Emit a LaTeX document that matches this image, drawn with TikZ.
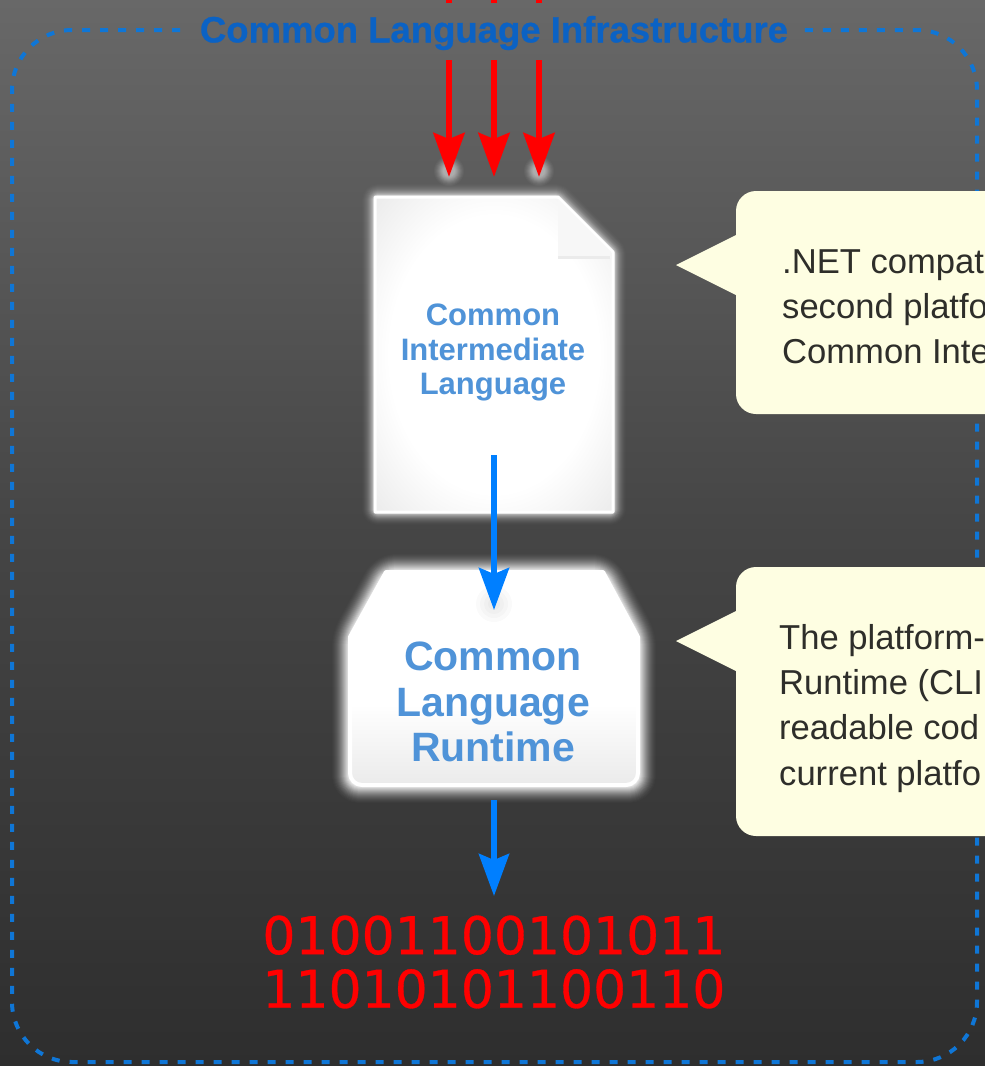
\documentclass[tikz,border=0pt]{standalone}
\usepackage{fontspec}
\setmainfont{Liberation Sans}
\newfontfamily\digitfont[FakeBold=0.6]{DejaVu Sans}
\newfontfamily\titlefont[FakeBold=0.8]{Liberation Sans Bold}
\usetikzlibrary{arrows.meta,calc}
\definecolor{bgtop}{HTML}{686868}
\definecolor{bgbot}{HTML}{2E2E2E}
\definecolor{dashblue}{HTML}{0F76D6}
\definecolor{titleblue}{HTML}{0B62C4}
\definecolor{boxtext}{HTML}{4F93D8}
\definecolor{arrowblue}{HTML}{007FFF}
\definecolor{note}{HTML}{FEFEE2}
\definecolor{notetext}{HTML}{2E2E2A}
\pgfdeclareradialshading{papershade}{\pgfpointorigin}{
  color(0bp)=(white); color(22bp)=(white); color(34bp)=(white!93!black); color(50bp)=(white!90!black); color(72bp)=(white!87!black)}
\pgfdeclareverticalshading{clrshade}{100bp}{
  color(0bp)=(white!92!black); color(25bp)=(white!92!black); color(44bp)=(white); color(100bp)=(white)}
\pgfdeclareverticalshading{bgshade}{100bp}{
  color(0bp)=(bgbot); color(25bp)=(bgbot); color(50bp)=(bgtop!40!bgbot); color(75bp)=(bgtop); color(100bp)=(bgtop)}
\tikzset{
  x=1pt,y=-1pt,
  border line/.style={draw=dashblue,line width=4pt,dash pattern=on 8pt off 10pt,rounded corners=60pt},
  title text/.style={font=\titlefont\fontsize{36.5}{40}\selectfont,text=titleblue,inner sep=0pt},
  cil text/.style={font=\bfseries\fontsize{31}{34.6}\selectfont,text=boxtext,align=center,inner sep=0pt},
  clr text/.style={font=\bfseries\fontsize{41}{45.5}\selectfont,text=boxtext,align=center,inner sep=0pt},
  note text/.style={font=\fontsize{34.6}{45.3}\selectfont,text=notetext,align=left,inner sep=0pt,anchor=north west},
  binary text/.style={font=\digitfont\fontsize{52}{53.6}\selectfont,text=red,align=center,inner sep=0pt},
  note box/.style={fill=note,draw=none},
  red arrow/.style={draw=red,line width=6.5pt,-{Stealth[length=44pt,width=31pt,inset=6pt]}},
  blue arrow/.style={draw=arrowblue,line width=6pt,-{Stealth[length=42pt,width=30pt,inset=6pt]}},
  glow line/.style={white,line join=round},
}
\begin{document}
\begin{tikzpicture}
\useasboundingbox (0,0) rectangle (985,1066);
\clip (0,0) rectangle (985,1066);
\shade[shading=bgshade] (0,0) rectangle (985,1066);
% dashed frame with a gap for the title
\draw[border line] (180,30) -- (12,30) -- (12,1062) -- (977,1062) -- (977,30) -- (800,30);
\node[title text] (title) at (494,33) {Common Language Infrastructure};
% soft glows under red tips
\foreach \cx in {449,539}{
  \foreach \r/\o in {15/0.03,14/0.04,13/0.05,12/0.06,11/0.07,10/0.08,9/0.09,8/0.09,7/0.09,6/0.09}{
    \fill[white,opacity=\o] (\cx,171) circle[radius=\r];
  }
}
% CIL page
\foreach \w/\o in {26/0.015,24/0.02,22/0.03,20/0.035,18/0.04,16/0.05,14/0.07,12/0.09,10/0.11,8/0.14,6/0.19,4/0.27}{
  \draw[glow line,opacity=\o,line width=\w pt,rounded corners=3pt]
    (375,197) -- (558,197) -- (613,252) -- (613,512) -- (375,512) -- cycle;
}
\shade[shading=papershade,draw=white,line width=3pt,line join=round]
  (375,197) -- (558,197) -- (613,252) -- (613,512) -- (375,512) -- cycle;
\fill[white!97!black] (558,199) -- (611,252) -- (611,258) -- (558,258) -- cycle;
\fill[white!92!black] (558,256) rectangle (610,259);
\node[cil text] (cil) at (493,352.5) {Common\\Intermediate\\Language};
\coordinate (cilout) at (494,455);
% CLR box
\foreach \w/\o in {36/0.02,34/0.025,32/0.03,30/0.035,28/0.04,26/0.05,24/0.06,22/0.07,20/0.08,18/0.09,16/0.11,14/0.13,12/0.15,10/0.18,8/0.22,6/0.27,4/0.32}{
  \draw[glow line,opacity=\o,line width=\w pt,rounded corners=10pt]
    (386,572) -- (603,572) -- (638,637) -- (638,785) -- (350,785) -- (350,637) -- cycle;
}
\shade[shading=clrshade,draw=white,line width=4pt,line join=round]
  (386,572) -- (603,572) -- (638,637) [rounded corners=12pt] -- (638,785) -- (350,785) [sharp corners] -- (350,637) -- cycle;
\foreach \r in {18,14,10,6}{
  \fill[black,opacity=0.02] (494,604) circle[radius=\r];
}
\node[clr text] (clr) at (493,702) {Common\\Language\\Runtime};
\coordinate (clrin) at (494,610);
\coordinate (clrout) at (494,800);
% binary
\node[binary text] (binary) at (494,962) {01001100101011\\11010101100110};
\coordinate (binin) at (494,896);
% arrows
\foreach \n/\cx in {a/449,b/494,c/539}{
  \coordinate (top\n) at (\cx,60);
  \coordinate (tip\n) at (\cx,177);
  \coordinate (stub\n) at (\cx,-2);
  \coordinate (stubend\n) at (\cx,3);
  \draw[draw=red,line width=6.5pt] (stub\n) -- (stubend\n);
  \draw[red arrow] (top\n) -- (tip\n);
}
\draw[blue arrow] (cilout) -- (clrin);
\draw[blue arrow] (clrout) -- (binin);
% callouts
\fill[note box,rounded corners=20pt] (736,191) rectangle (1010,414);
\fill[note box] (736,235) -- (676,265) -- (736,295) -- cycle;
\fill[note box,rounded corners=20pt] (736,567) rectangle (1010,836);
\fill[note box] (736,611) -- (676,641) -- (736,671) -- cycle;
\node[note text] (notea) at (782,249) {.NET compat\\second platfo\\Common Inte};
\node[note text] (noteb) at (779,624) {The platform-\\Runtime (CLI\\readable cod\\current platfo};
\end{tikzpicture}
\end{document}
